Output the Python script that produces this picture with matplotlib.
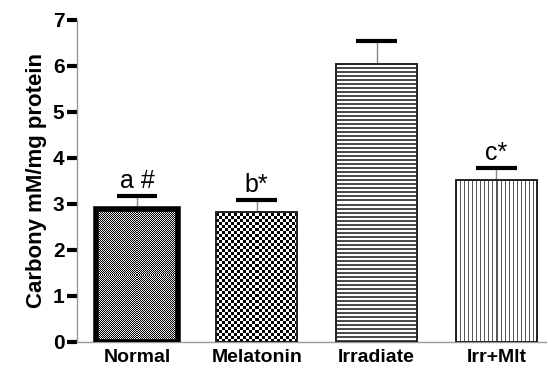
import numpy as np
import matplotlib.pyplot as plt

groups = ["Normal", "Melatonin", "Irradiate", "Irr+Mlt"]
means = [2.9, 2.82, 6.05, 3.53]
errors = [0.27, 0.27, 0.5, 0.25]
marks = ["a #", "b*", "", "c*"]

plt.rcParams['font.family'] = ['Liberation Sans', 'DejaVu Sans']

fig = plt.figure(figsize=(5.48, 3.74), dpi=100)
ax = fig.add_axes([0.1405, 0.0856, 0.855, 0.861])
x = np.arange(len(groups))
width = 0.68

bars = ax.bar(x, means, width=width, facecolor='none', edgecolor='#222222', linewidth=1.4, zorder=3)
bars[0].set_linewidth(4)
bars[0].set_edgecolor('black')

ax.set_xlim(-0.5, 3.41)
ax.set_ylim(0, 7)


def pattern(kind, nx, ny):
    yy, xx = np.mgrid[0:ny, 0:nx]
    if kind == 'fine':
        return ((xx + yy) % 2) * 0.9
    if kind == 'check':
        return ((xx // 3 + yy // 3) % 2) * 1.0
    if kind == 'hlines':
        return np.where(yy % 4 < 2, 0.3, 1.0)
    return np.where(xx % 4 < 1, 0.35, 1.0)


kinds = ['fine', 'check', 'hlines', 'vlines']
for b, kind in zip(bars, kinds):
    x0, h, w = b.get_x(), b.get_height(), b.get_width()
    p0 = ax.transData.transform((x0, 0))
    p1 = ax.transData.transform((x0 + w, h))
    nx = int(round(p1[0] - p0[0]))
    ny = int(round(p1[1] - p0[1]))
    img = ax.imshow(pattern(kind, nx, ny), cmap='gray', vmin=0, vmax=1,
                    extent=(x0, x0 + w, 0, h), origin='lower',
                    interpolation='nearest', aspect='auto', zorder=2)
    img.set_clip_path(b)

ax.set_xlim(-0.5, 3.41)
ax.set_ylim(0, 7)

# upper error bars: thin gray stem, heavy black cap
for xi, m, e in zip(x, means, errors):
    ax.plot([xi, xi], [m, m + e], color='#888888', lw=1, zorder=1)
    ax.plot([xi - 0.17, xi + 0.17], [m + e, m + e], color='black', lw=3, solid_capstyle='butt', zorder=4)

for xi, m, e, t in zip(x, means, errors, marks):
    if t:
        ax.text(xi, m + e + 0.06, t, ha='center', va='bottom', fontsize=18)

ax.spines['top'].set_visible(False)
ax.spines['right'].set_visible(False)
ax.spines['left'].set_color('#999999')
ax.spines['bottom'].set_color('#999999')
ax.spines['left'].set_linewidth(1)
ax.spines['bottom'].set_linewidth(1)

ax.set_xticks(x)
ax.set_xticklabels(groups, fontsize=14, fontweight='bold')
ax.tick_params(axis='x', length=0, pad=5)
ax.set_yticks(range(8))
ax.set_yticklabels([str(i) for i in range(8)], fontsize=15, fontweight='bold')
ax.tick_params(axis='y', length=7, width=3, color='black', pad=2)
ax.set_ylabel("Carbony mM/mg protein", fontsize=16, fontweight='bold', labelpad=4)

fig.savefig('out.png', dpi=100)
